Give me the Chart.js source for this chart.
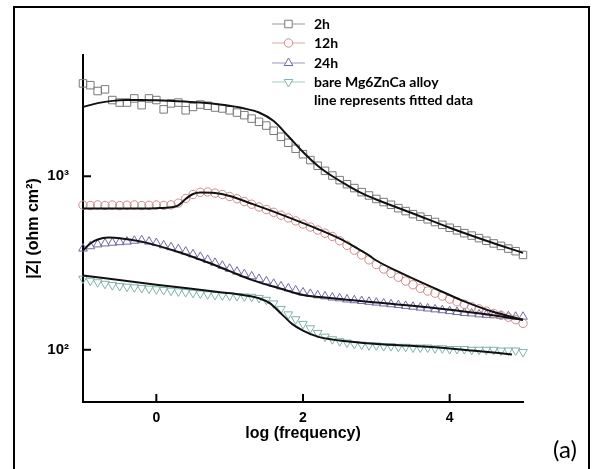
<!DOCTYPE html>
<html>
<head>
<meta charset="utf-8">
<script src="https://cdn.jsdelivr.net/npm/chart.js@4.4.1/dist/chart.umd.min.js"></script>
<style>
  body { margin: 0; background: #fff; }
  #wrap { position: relative; width: 593px; height: 469px; overflow: hidden; }
  #frame { position: absolute; left: 13px; top: 6px; width: 577px; height: 490px; border: 2px solid #000; box-sizing: border-box; pointer-events: none; }
  #tag { position: absolute; left: 553px; top: 434px; font: 24px Lato, sans-serif; color: #000; }
</style>
</head>
<body>
<div id="wrap">
  <canvas id="chart" width="593" height="469"></canvas>
  <div id="frame"></div>
  <div id="tag">(a)</div>
</div>
<script>
// measured points, one every 0.1 in log(frequency)
let logFreq = [-1.0, -0.9, -0.8, -0.7, -0.6, -0.5, -0.4, -0.3, -0.2, -0.1,
  0.0, 0.1, 0.2, 0.3, 0.4, 0.5, 0.6, 0.7, 0.8, 0.9,
  1.0, 1.1, 1.2, 1.3, 1.4, 1.5, 1.6, 1.7, 1.8, 1.9,
  2.0, 2.1, 2.2, 2.3, 2.4, 2.5, 2.6, 2.7, 2.8, 2.9,
  3.0, 3.1, 3.2, 3.3, 3.4, 3.5, 3.6, 3.7, 3.8, 3.9,
  4.0, 4.1, 4.2, 4.3, 4.4, 4.5, 4.6, 4.7, 4.8, 4.9, 5.0];

let z2h = [3430, 3350, 3100, 3170, 2750, 2660, 2660, 2810, 2570, 2810,
  2750, 2430, 2630, 2660, 2400, 2510, 2590, 2550, 2490, 2460,
  2400, 2330, 2250, 2150, 2060, 1960, 1830, 1690, 1560, 1440,
  1340, 1240, 1150, 1075, 1010, 950, 900, 855, 810, 775,
  740, 710, 685, 655, 630, 605, 585, 565, 545, 525,
  505, 488, 470, 455, 440, 425, 410, 397, 383, 370, 352];

let z12h = [682, 678, 684, 679, 683, 677, 681, 684, 678, 680,
  683, 679, 684, 700, 745, 785, 808, 812, 800, 785,
  765, 742, 715, 690, 665, 643, 620, 597, 575, 553,
  530, 510, 490, 470, 450, 425, 400, 375, 352, 330,
  310, 292, 276, 262, 249, 237, 226, 218, 212, 204,
  196, 189, 183, 177, 172, 167, 162, 158, 154, 149, 142];

let z24h = [383, 395, 405, 410, 414, 417, 420, 425, 428, 420,
  412, 400, 390, 380, 368, 355, 343, 330, 317, 305,
  293, 282, 273, 265, 256, 248, 240, 232, 226, 220,
  214, 210, 206, 203, 200, 198, 195, 193, 191, 189,
  187, 185, 183, 181, 179, 177, 175, 173, 171, 169,
  167, 165, 163, 162, 160, 159, 158, 157, 156, 155, 155];

let zBare = [257, 250, 245, 240, 236, 233, 231, 229, 227, 225,
  223, 221, 219, 217, 215, 213, 211, 209, 207, 206,
  205, 204, 203, 202, 199, 194, 185, 172, 160, 150,
  141, 133, 125, 119, 115, 112, 110, 108, 107, 106,
  106, 105, 105, 104, 104, 103, 103, 103, 102, 102,
  101, 101, 101, 100, 100, 100, 100, 99, 99, 99, 97];

// fitted curves
let fit2hX = [-1, -0.8, -0.6, -0.4, -0.2, 0, 0.3, 0.6, 0.9, 1.2, 1.4, 1.6, 1.8, 2.0, 2.2, 2.4, 2.6, 2.8, 3.0, 3.5, 4.0, 4.5, 5.0];
let fit2hY = [2510, 2640, 2720, 2750, 2750, 2740, 2710, 2660, 2580, 2460, 2330, 2080, 1700, 1380, 1150, 1000, 890, 800, 735, 610, 505, 425, 362];

let fit12hX = [-1, -0.5, 0, 0.2, 0.3, 0.4, 0.5, 0.6, 0.8, 1.0, 1.3, 1.6, 2.0, 2.2, 2.5, 2.7, 2.9, 3.0, 3.3, 3.6, 3.9, 4.2, 4.6, 5.0];
let fit12hY = [652, 652, 655, 662, 680, 740, 790, 805, 800, 770, 695, 625, 537, 497, 437, 393, 350, 327, 282, 246, 216, 190, 165, 149];

let fit24hX = [-1, -0.9, -0.8, -0.65, -0.5, -0.2, 0.3, 0.75, 1.0, 1.3, 1.7, 2.0, 2.3, 3.0, 3.7, 4.5, 5.0];
let fit24hY = [374, 410, 432, 443, 440, 420, 366, 313, 284, 253, 225, 207, 200, 187, 176, 160, 149];

let fitBareX = [-1, 0, 0.9, 1.2, 1.4, 1.55, 1.7, 1.85, 2.0, 2.2, 2.5, 3.0, 3.7, 4.3, 4.85];
let fitBareY = [268, 237, 214, 206, 198, 185, 162, 141, 129, 119, 113, 108, 104, 99, 94];

let xTicks = [0, 2, 4];
let yTicks = [100, 1000];
let yTickLabels = {100: '10\u00B2', 1000: '10\u00B3'};

let seriesNames = ['2h', '12h', '24h', 'bare Mg6ZnCa alloy'];
let seriesColors = ['#7a7a7a', '#cf8a8a', '#6f6aa8', '#7fb3ab'];
let legendLineColors = ['#9a9a9a', '#d9a6a6', '#9a96c4', '#a6cbc5'];
let seriesStyles = ['rect', 'circle', 'triangle', 'triangle'];
let seriesRotation = [0, 0, 0, 180];
let seriesRadius = [5.3, 4.2, 5, 5];
let noteText = 'line represents fitted data';

function points(xs, ys) {
  return xs.map((x, i) => ({x: x, y: ys[i]}));
}

function markerSet(i, ys) {
  return {
    label: seriesNames[i],
    data: points(logFreq, ys),
    pointStyle: seriesStyles[i],
    rotation: seriesRotation[i],
    pointRadius: seriesRadius[i],
    pointBorderWidth: 1,
    borderColor: seriesColors[i],
    backgroundColor: 'rgba(0,0,0,0)',
    showLine: false,
    clip: false,
    order: 2
  };
}

function fitSet(xs, ys) {
  return {
    label: 'fit',
    data: points(xs, ys),
    showLine: true,
    pointRadius: 0,
    borderColor: '#111',
    borderWidth: 2,
    cubicInterpolationMode: 'monotone',
    clip: false,
    order: 1
  };
}

let decorations = {
  id: 'decorations',
  afterDraw(chart) {
    let ctx = chart.ctx;
    let area = chart.chartArea;
    let xs = chart.scales.x;
    let ys = chart.scales.y;
    ctx.save();
    ctx.strokeStyle = '#000';
    ctx.lineWidth = 2;
    xTicks.forEach(v => {
      let px = xs.getPixelForValue(v);
      ctx.beginPath();
      ctx.moveTo(px, area.bottom);
      ctx.lineTo(px, area.bottom - 8);
      ctx.stroke();
    });
    yTicks.forEach(v => {
      let py = ys.getPixelForValue(v);
      ctx.beginPath();
      ctx.moveTo(area.left, py);
      ctx.lineTo(area.left + 8, py);
      ctx.stroke();
    });

    // legend
    let rowY = [24, 43, 63, 82, 100];
    ctx.font = 'bold 14px Lato, sans-serif';
    ctx.textBaseline = 'middle';
    ctx.textAlign = 'left';
    seriesNames.forEach((name, i) => {
      let y = rowY[i];
      ctx.strokeStyle = legendLineColors[i];
      ctx.lineWidth = 1;
      ctx.beginPath();
      ctx.moveTo(272, y);
      ctx.lineTo(305, y);
      ctx.stroke();
      ctx.fillStyle = '#fff';
      ctx.strokeStyle = seriesColors[i];
      Chart.helpers.drawPoint(ctx, {
        pointStyle: seriesStyles[i],
        rotation: seriesRotation[i],
        radius: seriesRadius[i],
        borderWidth: 1
      }, 288.5, y);
      ctx.fillStyle = '#000';
      ctx.fillText(name, 314, y);
    });
    ctx.fillStyle = '#000';
    ctx.fillText(noteText, 314, rowY[4]);
    ctx.restore();
  }
};

Chart.defaults.color = '#000';

let axisFont = "'Liberation Sans', Arial, sans-serif";

new Chart(document.getElementById('chart'), {
  type: 'scatter',
  data: {
    datasets: [
      fitSet(fit2hX, fit2hY),
      fitSet(fit12hX, fit12hY),
      fitSet(fit24hX, fit24hY),
      fitSet(fitBareX, fitBareY),
      markerSet(0, z2h),
      markerSet(1, z12h),
      markerSet(2, z24h),
      markerSet(3, zBare)
    ]
  },
  options: {
    responsive: false,
    animation: false,
    layout: {padding: {top: 55, right: 70, left: 0, bottom: 0}},
    plugins: {
      legend: {display: false},
      tooltip: {enabled: false}
    },
    scales: {
      x: {
        type: 'linear',
        min: -1,
        max: 5,
        grid: {display: false},
        border: {color: '#000', width: 2},
        afterBuildTicks: s => { s.ticks = xTicks.map(v => ({value: v})); },
        afterFit: s => { s.height = 67; },
        ticks: {
          color: '#000',
          padding: 0,
          maxRotation: 0,
          font: {family: axisFont, size: 14, weight: 'bold'}
        },
        title: {
          display: true,
          text: 'log (frequency)',
          color: '#000',
          font: {family: axisFont, size: 16, weight: 'bold'},
          padding: {top: 0, bottom: 26}
        }
      },
      y: {
        type: 'logarithmic',
        min: 50,
        max: 5000,
        grid: {display: false},
        border: {color: '#000', width: 2},
        afterBuildTicks: s => { s.ticks = yTicks.map(v => ({value: v})); },
        afterFit: s => { s.width = 83; },
        ticks: {
          color: '#000',
          padding: 6,
          font: {family: axisFont, size: 15, weight: 'bold'},
          callback: v => yTickLabels[v] || ''
        },
        title: {
          display: true,
          text: '|Z| (ohm cm\u00B2)',
          color: '#000',
          font: {family: axisFont, size: 16, weight: 'bold'},
          padding: {top: 24, bottom: 0}
        }
      }
    }
  },
  plugins: [decorations]
});
</script>
</body>
</html>
